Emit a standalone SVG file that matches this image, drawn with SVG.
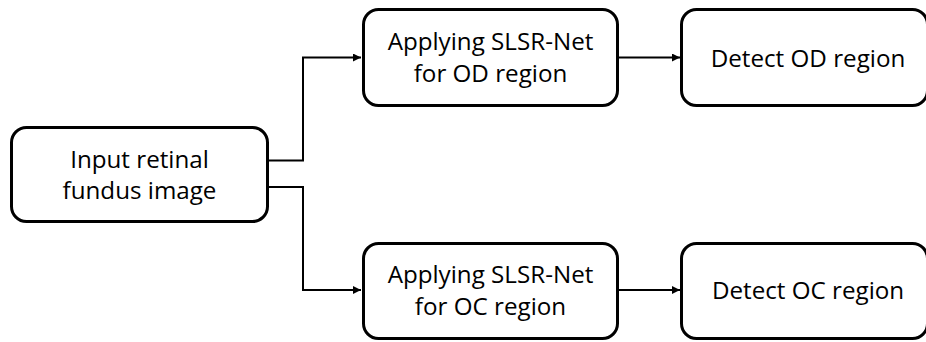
<svg xmlns="http://www.w3.org/2000/svg" width="926" height="342" viewBox="0 0 926 342">
<style>
.box{fill:#fff;stroke:#000;stroke-width:3}
.lbl{font-family:"Open Sans","Liberation Sans",sans-serif;font-size:24.2px;fill:#000;text-anchor:middle}
.conn{fill:none;stroke:#000;stroke-width:2}
</style>
<defs>
<marker id="arr" viewBox="0 0 10 10" refX="10" refY="5" markerWidth="9" markerHeight="8" markerUnits="userSpaceOnUse" orient="auto">
<path d="M0,0 L10,5 L0,10 z" fill="#000"/>
</marker>
</defs>
<rect width="926" height="342" fill="#fff"/>
<g id="connectors">
<path class="conn" d="M268,160.5 H303 V57.5 H361" marker-end="url(#arr)"/>
<path class="conn" d="M268,187 H303 V290 H361" marker-end="url(#arr)"/>
<path class="conn" d="M618,57.5 H680" marker-end="url(#arr)"/>
<path class="conn" d="M618,290 H680" marker-end="url(#arr)"/>
</g>
<g id="input">
<rect class="box" x="11.5" y="127.5" width="256" height="94" rx="15"/>
<text class="lbl" x="139.5" y="168">Input retinal</text>
<text class="lbl" x="139.5" y="199">fundus image</text>
</g>
<g id="slsr-od">
<rect class="box" x="363.5" y="9.5" width="254" height="96" rx="15"/>
<text class="lbl" x="490.5" y="50">Applying SLSR-Net</text>
<text class="lbl" x="490.5" y="82">for OD region</text>
</g>
<g id="slsr-oc">
<rect class="box" x="363.5" y="243.5" width="254" height="95" rx="15"/>
<text class="lbl" x="490.5" y="283">Applying SLSR-Net</text>
<text class="lbl" x="490.5" y="315">for OC region</text>
</g>
<g id="detect-od">
<rect class="box" x="681.5" y="9.5" width="246" height="96" rx="15"/>
<text class="lbl" x="808" y="67">Detect OD region</text>
</g>
<g id="detect-oc">
<rect class="box" x="681.5" y="243.5" width="246" height="95" rx="15"/>
<text class="lbl" x="808" y="299">Detect OC region</text>
</g>
</svg>
